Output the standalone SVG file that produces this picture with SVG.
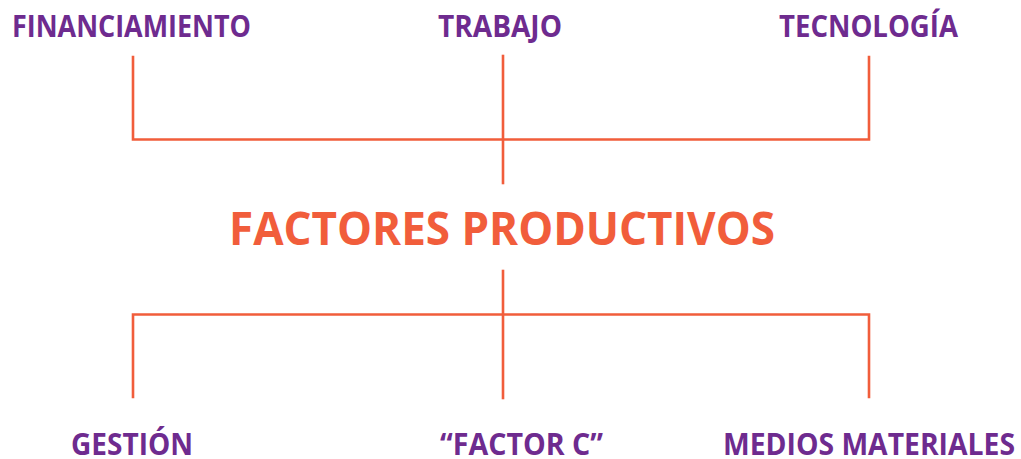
<svg xmlns="http://www.w3.org/2000/svg" width="1021" height="459" viewBox="0 0 1021 459">
<style>
.lbl{font-family:"Open Sans","Liberation Sans",sans-serif;font-weight:700;font-size:31px;fill:#6E2B8F}
.title{font-family:"Open Sans","Liberation Sans",sans-serif;font-weight:700;font-size:47px;fill:#F15D3B}
.ln{stroke:#F15D3B;stroke-width:2.6;fill:none;stroke-linecap:square}
</style>
<rect width="1021" height="459" fill="#fff"/>
<g id="connectors">
<path class="ln" d="M133 57V139.5H869V57"/>
<path class="ln" d="M503 56V183"/>
<path class="ln" d="M503 271V398"/>
<path class="ln" d="M133 397V314.5H869V397"/>
</g>
<g id="financiamiento"><text class="lbl" x="12" y="37" textLength="239" lengthAdjust="spacingAndGlyphs">FINANCIAMIENTO</text></g>
<g id="trabajo"><text class="lbl" x="438" y="37" textLength="124" lengthAdjust="spacingAndGlyphs">TRABAJO</text></g>
<g id="tecnologia"><text class="lbl" x="779" y="37" textLength="179" lengthAdjust="spacingAndGlyphs">TECNOLOGÍA</text></g>
<g id="factores"><text class="title" x="229" y="245" textLength="546" lengthAdjust="spacingAndGlyphs">FACTORES PRODUCTIVOS</text></g>
<g id="gestion"><text class="lbl" x="71" y="455" textLength="122" lengthAdjust="spacingAndGlyphs">GESTIÓN</text></g>
<g id="factorc"><text class="lbl" x="440" y="455" textLength="163" lengthAdjust="spacingAndGlyphs">“FACTOR C”</text></g>
<g id="medios"><text class="lbl" x="723" y="455" textLength="292" lengthAdjust="spacingAndGlyphs">MEDIOS MATERIALES</text></g>
</svg>
